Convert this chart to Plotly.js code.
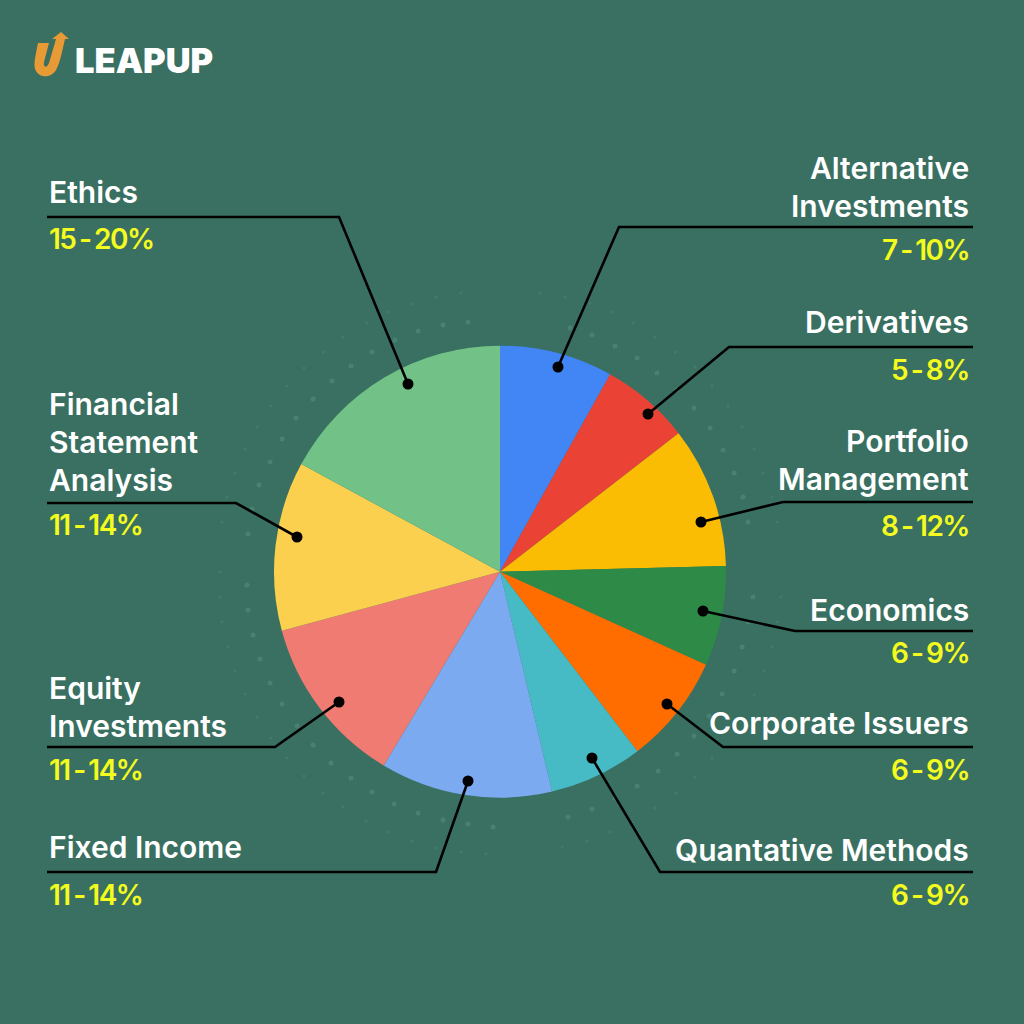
<!DOCTYPE html>
<html><head><meta charset="utf-8">
<script src="https://cdn.plot.ly/plotly-3.0.1.min.js"></script>
<style>html,body{margin:0;padding:0;background:#397061}
.annotation-text[style*="rgb(244, 251, 30)"]{letter-spacing:-1.5px;word-spacing:-2px}</style></head>
<body><div id="chart" style="width:1024px;height:1024px"></div>
<script>
const categories = ["Alternative Investments","Derivatives","Portfolio Management","Economics","Corporate Issuers","Quantative Methods","Fixed Income","Equity Investments","Financial Statement Analysis","Ethics"];
const shares = [8.1,6.4,10.1,7.15,7.85,6.7,12.3,12.2,12.1,17.1];
const sliceColors = ["#4285F4","#EA4335","#FBBC04","#2E8B47","#FF6D01","#46BBC6","#7BAAF0","#F07B72","#FCD04F","#72C287"];
const rangeLabels = ["7 - 10%","5 - 8%","8 - 12%","6 - 9%","6 - 9%","6 - 9%","11 - 14%","11 - 14%","11 - 14%","15 - 20%"];
// faint background speckles, inner and outer ring
const innerDotsX = [418,395,372,351,332,313,296,282,270,259,252,248,247,248,253,260,270,282,297,313,331,351,372,394,418,443,468,493,568,592,615,637,658,677,694,709,722,734,742,748,753,748,743,734,723,710,694,677,657,637,615,592,570,443,468];
const innerDotsY = [331,340,352,366,381,399,418,439,462,485,509,534,585,610,635,659,683,704,726,745,763,778,792,804,813,820,824,827,817,809,798,786,771,754,736,716,694,671,647,622,597,522,497,473,450,428,408,390,373,358,346,335,328,325,322];
const outerDotsX = [388,367,343,323,304,287,271,257,245,235,227,222,220,220,222,228,235,245,257,271,287,304,323,343,366,388,412,436,461,486,562,587,610,632,655,676,695,712,740,754,764,772,777,781,777,772,763,754,742,728,712,695,675,655,633,612,590,565,540,461,436,412];
const outerDotsY = [312,323,337,352,368,386,406,427,449,473,497,522,572,597,622,647,671,694,717,738,758,776,793,807,821,832,841,848,852,854,847,841,832,822,808,793,777,758,717,695,671,647,622,597,522,497,473,449,427,406,386,367,352,337,323,312,303,297,293,293,297,304];

const W=1024,H=1024;
const X=v=>v/W, Y=v=>1-v/H;
const FONT="Inter";
const cx=500,cy=571.7,R=226;

const leaders=[
 [[973,227],[619,227],[558,367]],
 [[973,347],[729,347],[648,414]],
 [[973,502],[783,502],[701,522]],
 [[973,631],[795,631],[703,611]],
 [[973,747],[723,747],[667,704]],
 [[973,872],[660,872],[592,758]],
 [[47,872],[436,872],[468,781]],
 [[47,747],[275,747],[339,702]],
 [[47,503],[236,503],[297,537]],
 [[47,217],[339,217],[408,384]]
];
const shapes=[];
leaders.forEach(p=>{
  shapes.push({type:"path",xref:"paper",yref:"paper",
    path:"M"+p.map(q=>X(q[0])+","+Y(q[1])).join(" L"),
    line:{color:"#000",width:2.6}});
  const d=p[p.length-1], r=5.5;
  shapes.push({type:"circle",xref:"paper",yref:"paper",x0:X(d[0]-r),x1:X(d[0]+r),y0:Y(d[1]+r),y1:Y(d[1]-r),fillcolor:"#000",line:{width:0}});
});
const P=(x,y)=>X(x)+","+Y(y);
shapes.push({type:"path",xref:"paper",yref:"paper",fillcolor:"#E89A35",line:{width:0},
 path:"M"+P(38,43)+" L"+P(49,43)+" L"+P(44,62)+" C"+P(43,68)+" "+P(47,68)+" "+P(49,63)+" L"+P(56,39)+" L"+P(52,39)+" L"+P(61,32)+" L"+P(69,39)+" L"+P(65,39)+" C"+P(62,52)+" "+P(60,62)+" "+P(57,68)+" C"+P(53,78)+" "+P(40,79)+" "+P(36,71)+" C"+P(33,66)+" "+P(35,58)+" "+P(38,43)+" Z"});

const ann=[];
const t=(x,y,s,c,anchor,size)=>ann.push({xref:"paper",yref:"paper",x:X(x),y:Y(y),text:s,showarrow:false,xanchor:anchor,yanchor:"middle",
  font:{family:FONT,size:size||30,color:c,weight:600}});
const W_="#ffffff",Yl="#F4FB1E";
const rng=(x,y,i,a)=>t(x,y,rangeLabels[i],Yl,a,28);
t(971,168,"Alternative",W_,"right");t(971,206,"Investments",W_,"right");rng(971,250,0,"right");
t(971,322,"Derivatives",W_,"right");rng(971,370,1,"right");
t(971,441,"Portfolio",W_,"right");t(971,479,"Management",W_,"right");rng(971,526,2,"right");
t(971,610,"Economics",W_,"right");rng(971,653,3,"right");
t(971,723,"Corporate Issuers",W_,"right");rng(971,770,4,"right");
t(971,850,"Quantative Methods",W_,"right");rng(971,895,5,"right");
t(47,192,"Ethics",W_,"left");rng(47,239,9,"left");
t(47,404,"Financial",W_,"left");t(47,442,"Statement",W_,"left");t(47,480,"Analysis",W_,"left");rng(47,525,8,"left");
t(47,688,"Equity",W_,"left");t(47,726,"Investments",W_,"left");rng(47,770,7,"left");
t(47,847,"Fixed Income",W_,"left");rng(47,895,6,"left");
t(73,60,"LEAPUP",W_,"left",34.5);
ann[ann.length-1].font.weight=900;

const hidden={visible:false,range:[0,W],fixedrange:true};
Plotly.newPlot("chart",[
 {type:"scatter",mode:"markers",x:innerDotsX,y:innerDotsY,marker:{size:5,color:"#4A8072"},hoverinfo:"none",showlegend:false},
 {type:"scatter",mode:"markers",x:outerDotsX,y:outerDotsY,marker:{size:3,color:"#437A6B"},hoverinfo:"none",showlegend:false},
 {type:"pie",labels:categories,values:shares,sort:false,direction:"clockwise",rotation:0,
  marker:{colors:sliceColors,line:{width:0}},textinfo:"none",hoverinfo:"none",showlegend:false,
  domain:{x:[X(cx-R),X(cx+R)],y:[Y(cy+R),Y(cy-R)]}}],
 {width:W,height:H,margin:{l:0,r:0,t:0,b:0},paper_bgcolor:"#397061",plot_bgcolor:"#397061",showlegend:false,
  xaxis:hidden,yaxis:{visible:false,range:[H,0],fixedrange:true},shapes,annotations:ann},
 {displayModeBar:false,staticPlot:true});
</script></body></html>
